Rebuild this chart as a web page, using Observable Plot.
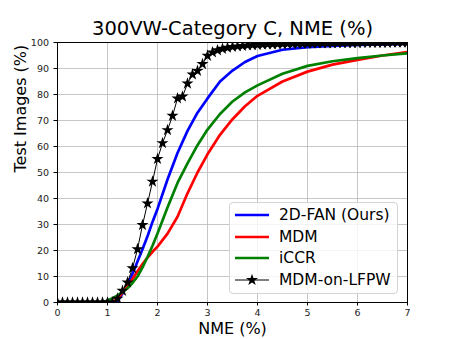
<!DOCTYPE html>
<html><head><meta charset="utf-8">
<script src="https://cdn.jsdelivr.net/npm/d3@7"></script>
<script src="https://cdn.jsdelivr.net/npm/@observablehq/plot@0.6"></script>
<style>
body{margin:0;background:#fff;}
#wrap{position:relative;width:452px;height:339px;font-family:"DejaVu Sans",sans-serif;}
#legend{position:absolute;left:229px;top:202px;width:169px;height:92px;border:1px solid #d4d4d4;border-radius:4px;background:rgba(255,255,255,0.8);box-sizing:border-box;}
.row{position:absolute;left:0;width:100%;height:20px;}
.row svg{position:absolute;left:4px;top:0;}
.row span{position:absolute;left:49px;top:0;line-height:20px;font-size:15.5px;color:#000;white-space:nowrap;}
</style>
</head><body>
<div id="wrap"></div>
<script>
const title = "300VW-Category C, NME (%)";
const xLabel = "NME (%)";
const yLabel = "Test Images (%)";
const xTicks = [0, 1, 2, 3, 4, 5, 6, 7];
const yTicks = [0, 10, 20, 30, 40, 50, 60, 70, 80, 90, 100];

const seriesNames = ["2D-FAN (Ours)", "MDM", "iCCR", "MDM-on-LFPW"];
const seriesColors = ["#0000ff", "#ff0000", "#008000", "#000000"];

// common NME thresholds for the three smooth curves
const curveX = [0, 0.9, 1.0, 1.1, 1.2, 1.3, 1.4, 1.5, 1.6, 1.7, 1.8, 1.9, 2.0, 2.2, 2.4, 2.6, 2.8, 3.0, 3.25, 3.5, 3.75, 4.0, 4.5, 5.0, 5.5, 6.0, 6.5, 7.0];
const fanY  = [0, 0, 0, 0, 0.5, 3.5, 7, 11, 15.8, 20.5, 25.5, 31, 36, 47.3, 57.5, 66, 73, 78.5, 85, 89.2, 92.5, 94.8, 97.2, 98.2, 98.7, 99.1, 99.3, 99.5];
const mdmY  = [0, 0, 0, 0, 1.5, 3.8, 6.3, 9, 12, 14.8, 17.3, 19.5, 21.5, 26.5, 33, 42, 50, 57, 64.5, 70.5, 75.5, 79.5, 85, 88.8, 91.5, 93.3, 95, 96.3];
const iccrY = [0, 0, 0.8, 1.6, 2.7, 4, 5.5, 7.5, 10, 13.5, 17.5, 21.8, 26.5, 36.5, 46, 53.5, 60.5, 66.5, 72.5, 77.3, 80.8, 83.5, 88, 91, 92.8, 94, 95, 95.8];

// MDM-on-LFPW markers (every 0.1)
const lfpwX = [0, 0.1, 0.2, 0.3, 0.4, 0.5, 0.6, 0.7, 0.8, 0.9, 1.0, 1.1, 1.2, 1.3, 1.4, 1.5, 1.6, 1.7, 1.8, 1.9,
  2.0, 2.1, 2.2, 2.3, 2.4, 2.5, 2.6, 2.7, 2.8, 2.9, 3.0, 3.1, 3.2, 3.3, 3.4, 3.5, 3.6, 3.7, 3.8, 3.9,
  4.0, 4.1, 4.2, 4.3, 4.4, 4.5, 4.6, 4.7, 4.8, 4.9, 5.0, 5.1, 5.2, 5.3, 5.4, 5.5, 5.6, 5.7, 5.8, 5.9,
  6.0, 6.1, 6.2, 6.3, 6.4, 6.5, 6.6, 6.7, 6.8, 6.9, 7.0];
const lfpwY = [0, 0, 0, 0, 0, 0, 0, 0, 0, 0, 0, 0, 1.5, 4.5, 7.7, 13.2, 20.5, 29.8, 38.1, 46.5,
  55.2, 61.3, 66.3, 71.8, 78.5, 79.2, 84.2, 87.7, 89.1, 91.7, 94.9, 96.2, 97.0, 97.6, 98.0, 98.3, 98.5, 98.7, 98.9, 99.0,
  99.1, 99.2, 99.3, 99.3, 99.4, 99.4, 99.5, 99.5, 99.5, 99.6, 99.6, 99.6, 99.7, 99.7, 99.7, 99.7, 99.8, 99.8, 99.8, 99.8,
  99.8, 99.9, 99.9, 99.9, 99.9, 99.9, 99.9, 100, 100, 100, 100];

const curves = [fanY, mdmY, iccrY].map((ys, k) =>
  curveX.map((x, i) => ({x, y: ys[i], s: seriesNames[k]})));
const lfpw = lfpwX.map((x, i) => ({x, y: lfpwY[i]}));

const chart = Plot.plot({
  width: 452, height: 339,
  marginLeft: 57, marginRight: 45, marginTop: 42, marginBottom: 37,
  style: {fontFamily: "DejaVu Sans, sans-serif", fontSize: "9px", color: "#222", background: "#fff"},
  x: {domain: [0, 7]},
  y: {domain: [0, 100]},
  marks: [
    Plot.gridX(xTicks, {stroke: "#b8b8b8", strokeOpacity: 1, strokeWidth: 0.8}),
    Plot.gridY(yTicks, {stroke: "#b8b8b8", strokeOpacity: 1, strokeWidth: 0.8}),
    ...curves.map((c, k) => Plot.line(c, {x: "x", y: "y", stroke: seriesColors[k], strokeWidth: 2.7, clip: true})),
    Plot.line(lfpw, {x: "x", y: "y", stroke: "#000", strokeWidth: 1, clip: true}),
    Plot.dot(lfpw, {x: "x", y: "y", symbol: "star", r: 3.8, fill: "#000", stroke: "none", clip: true}),
    Plot.frame({stroke: "#000", strokeWidth: 1}),
    Plot.axisX(xTicks, {tickSize: 3.5, tickPadding: 3, fontSize: 9.5, label: null, stroke: "#000"}),
    Plot.axisY(yTicks, {tickSize: 3.5, tickPadding: 5, fontSize: 9.5, label: null, stroke: "#000"}),
    Plot.text([title], {text: d => d, frameAnchor: "top", dy: -14, fontSize: 19.5, fill: "#000", lineAnchor: "middle"}),
    Plot.text([xLabel], {text: d => d, frameAnchor: "bottom", dy: 26, fontSize: 16, fill: "#000", lineAnchor: "middle"}),
    Plot.text([yLabel], {text: d => d, frameAnchor: "left", dx: -37, rotate: -90, fontSize: 16, fill: "#000", lineAnchor: "middle"})
  ]
});

const wrap = document.getElementById("wrap");
wrap.appendChild(chart);

const legend = document.createElement("div");
legend.id = "legend";
seriesNames.forEach((name, k) => {
  const row = document.createElement("div");
  row.className = "row";
  row.style.top = (2 + k * 21.7) + "px";
  const star = k === 3 ? `<path transform="translate(18,10)" d="${d3.symbol(d3.symbolStar, 45)()}" fill="#000"/>` : "";
  row.innerHTML = `<svg width="40" height="20"><line x1="1" x2="35" y1="10" y2="10" stroke="${seriesColors[k]}" stroke-width="${k === 3 ? 1 : 2.7}"/>${star}</svg><span>${name}</span>`;
  legend.appendChild(row);
});
wrap.appendChild(legend);
</script>
</body></html>
